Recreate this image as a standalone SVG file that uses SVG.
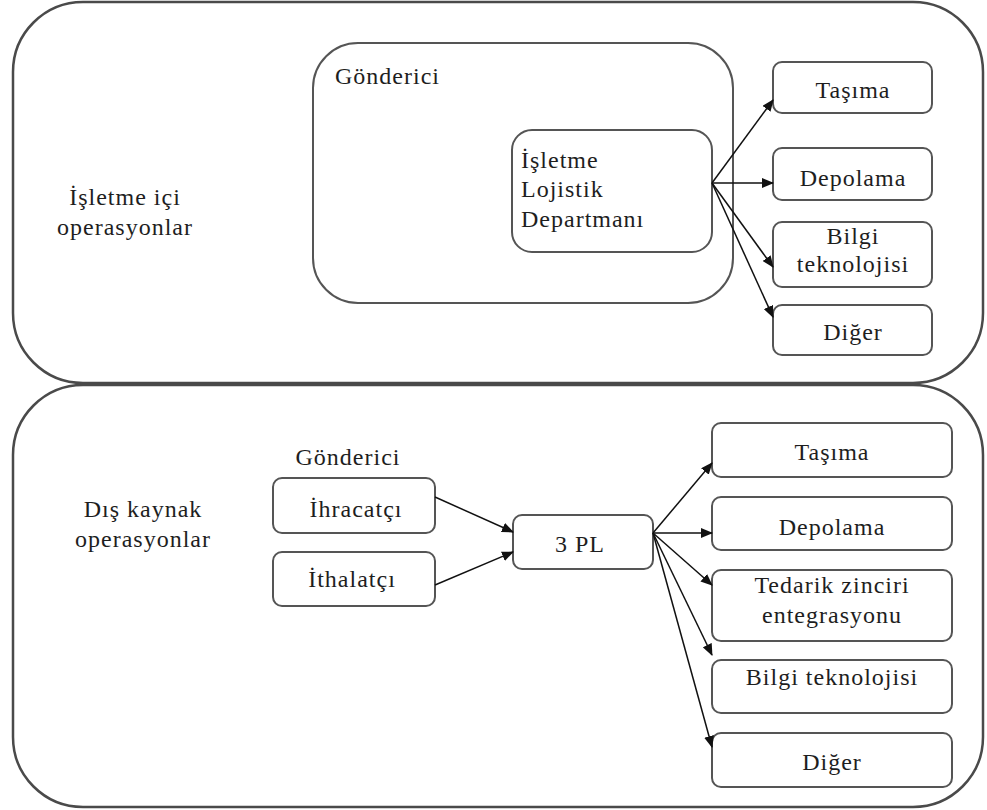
<svg xmlns="http://www.w3.org/2000/svg" width="987" height="810" viewBox="0 0 987 810">
<defs>
<marker id="ah" markerWidth="12" markerHeight="10" refX="11" refY="5" orient="auto" markerUnits="userSpaceOnUse">
<path d="M0,0 L12,5 L0,10 z" fill="#111"/>
</marker>
<style>
.box{fill:#fff;stroke:#555;stroke-width:2}
.outer{fill:#fff;stroke:#4a4a4a;stroke-width:2.5}
.t{font-family:"Liberation Serif","Times New Roman",serif;font-size:24px;letter-spacing:1px;fill:#1e1e1e}
.c{text-anchor:middle}
.arr{stroke:#111;stroke-width:1.5;fill:none;marker-end:url(#ah)}
</style>
</defs>
<rect width="987" height="810" fill="#fff"/>

<g id="top-section">
<rect class="outer" x="13" y="2" width="970" height="381" rx="70" ry="70"/>
<text class="t c" x="125" y="205">İşletme içi</text>
<text class="t c" x="125" y="235">operasyonlar</text>
</g>
<g id="gonderici-top">
<rect class="box" x="313" y="43" width="420" height="260" rx="45" ry="45"/>
<text class="t" x="335" y="84">Gönderici</text>
</g>
<g id="lojistik-dept">
<rect class="box" x="512" y="130" width="200" height="122" rx="20" ry="20"/>
<text class="t" x="521" y="168">İşletme</text>
<text class="t" x="521" y="197">Lojistik</text>
<text class="t" x="521" y="227">Departmanı</text>
</g>
<g id="top-tasima">
<rect class="box" x="773" y="62" width="159" height="51" rx="9" ry="9"/>
<text class="t c" x="853" y="98">Taşıma</text>
</g>
<g id="top-depolama">
<rect class="box" x="773" y="148" width="159" height="52" rx="9" ry="9"/>
<text class="t c" x="853" y="186">Depolama</text>
</g>
<g id="top-bilgi">
<rect class="box" x="773" y="222" width="159" height="65" rx="9" ry="9"/>
<text class="t c" x="853" y="244">Bilgi</text>
<text class="t c" x="853" y="272">teknolojisi</text>
</g>
<g id="top-diger">
<rect class="box" x="773" y="305" width="159" height="50" rx="9" ry="9"/>
<text class="t c" x="853" y="340">Diğer</text>
</g>

<g id="bottom-section">
<rect class="outer" x="13" y="385" width="970" height="422" rx="70" ry="70"/>
<text class="t c" x="143" y="517">Dış kaynak</text>
<text class="t c" x="143" y="547">operasyonlar</text>
<text class="t c" x="348" y="465">Gönderici</text>
</g>
<g id="ihracatci">
<rect class="box" x="273" y="478" width="162" height="55" rx="9" ry="9"/>
<text class="t c" x="356" y="517">İhracatçı</text>
</g>
<g id="ithalatci">
<rect class="box" x="273" y="552" width="162" height="54" rx="9" ry="9"/>
<text class="t c" x="352" y="587">İthalatçı</text>
</g>
<g id="pl3">
<rect class="box" x="513" y="515" width="140" height="54" rx="9" ry="9"/>
<text class="t c" x="580" y="552">3 PL</text>
</g>
<g id="bot-tasima">
<rect class="box" x="712" y="423" width="240" height="54" rx="9" ry="9"/>
<text class="t c" x="832" y="460">Taşıma</text>
</g>
<g id="bot-depolama">
<rect class="box" x="712" y="497" width="240" height="53" rx="9" ry="9"/>
<text class="t c" x="832" y="535">Depolama</text>
</g>
<g id="bot-tedarik">
<rect class="box" x="712" y="570" width="240" height="71" rx="9" ry="9"/>
<text class="t c" x="832" y="593">Tedarik zinciri</text>
<text class="t c" x="832" y="623">entegrasyonu</text>
</g>
<g id="bot-bilgi">
<rect class="box" x="712" y="660" width="240" height="53" rx="9" ry="9"/>
<text class="t c" x="832" y="685">Bilgi teknolojisi</text>
</g>
<g id="bot-diger">
<rect class="box" x="712" y="733" width="240" height="54" rx="9" ry="9"/>
<text class="t c" x="832" y="770">Diğer</text>
</g>

<g id="connectors">
<line class="arr" x1="712" y1="183" x2="773" y2="100"/>
<line class="arr" x1="712" y1="183" x2="773" y2="183"/>
<line class="arr" x1="712" y1="183" x2="773" y2="267"/>
<line class="arr" x1="712" y1="183" x2="773" y2="317"/>
<line class="arr" x1="435" y1="497" x2="513" y2="532"/>
<line class="arr" x1="435" y1="585" x2="513" y2="552"/>
<line class="arr" x1="653" y1="533" x2="712" y2="463"/>
<line class="arr" x1="653" y1="533" x2="712" y2="533"/>
<line class="arr" x1="653" y1="533" x2="712" y2="585"/>
<line class="arr" x1="653" y1="533" x2="712" y2="655"/>
<line class="arr" x1="653" y1="533" x2="712" y2="747"/>
</g>
</svg>
